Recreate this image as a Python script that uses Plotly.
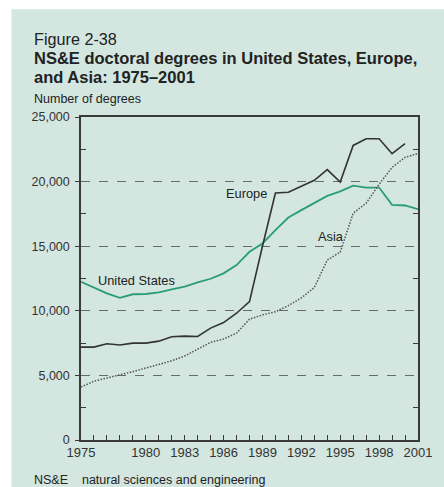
import plotly.graph_objects as go

years = list(range(1975, 2002))
us = [12250, 11800, 11350, 11000, 11280, 11300, 11430, 11660, 11870, 12200,
      12480, 12900, 13540, 14570, 15210, 16240, 17220, 17790, 18350, 18890,
      19250, 19690, 19540, 19540, 18200, 18150, 17860]
europe_years = list(range(1975, 2001))
europe = [7190, 7190, 7450, 7350, 7500, 7500, 7650, 7990, 8040, 8010,
          8660, 9090, 9810, 10710, 15000, 19120, 19180, 19640, 20100, 20930,
          19970, 22800, 23320, 23320, 22160, 22930]
asia = [4100, 4550, 4800, 5030, 5290, 5570, 5830, 6130, 6500, 7050,
        7560, 7810, 8270, 9350, 9680, 9930, 10400, 11000, 11800, 13930,
        14540, 17550, 18330, 19790, 21100, 21870, 22180]

labeled_years = [1975, 1980, 1983, 1986, 1989, 1992, 1995, 1998, 2001]
major_y = [0, 5000, 10000, 15000, 20000, 25000]
major_y_text = ["0", "5,000", "10,000", "15,000", "20,000", "25,000"]
minor_y = [2500, 7500, 12500, 17500, 22500]

W, H = 444, 487
L, R, T, B = 81, 418, 117, 440.5
pw, ph = R - L, B - T


def px(x):
    return (x - L) / pw


def py(y):
    return (B - y) / ph


TEAL = "#d3e6e0"
AX = "#3a3a3a"
FONT = "Liberation Sans, Arial, sans-serif"

fig = go.Figure()
fig.add_trace(go.Scatter(x=years, y=us, mode="lines", name="United States",
                         line=dict(color="#2a9d78", width=1.8)))
fig.add_trace(go.Scatter(x=europe_years, y=europe, mode="lines", name="Europe",
                         line=dict(color="#333333", width=1.6)))
fig.add_trace(go.Scatter(x=years, y=asia, mode="lines", name="Asia",
                         line=dict(color="#555555", width=1.5,
                                   dash="1.5px,1.5px")))
fig.add_trace(go.Scatter(x=[None], y=[None], yaxis="y2", showlegend=False,
                         hoverinfo="skip"))

fig.update_layout(
    width=W, height=H,
    margin=dict(l=L, r=W - R, t=T, b=H - B, pad=0),
    paper_bgcolor="white", plot_bgcolor="white",
    showlegend=False,
    font=dict(family=FONT, color="#333333", size=12),
    xaxis=dict(range=[1975, 2001], tickmode="array", tickvals=years,
               ticktext=[str(y) if y in labeled_years else "" for y in years],
               ticks="inside", ticklen=5, tickcolor=AX, tickwidth=1,
               showline=True, linecolor=AX, linewidth=1.5, mirror=True,
               showgrid=False, zeroline=False,
               tickfont=dict(size=13, color="#333333")),
    yaxis=dict(range=[0, 25000], tickmode="array", tickvals=major_y,
               ticktext=major_y_text, ticks="outside", ticklen=4,
               tickcolor=AX, showline=True, linecolor=AX, linewidth=1.5,
               mirror=True, showgrid=True, gridcolor="#6a6a6a",
               griddash="dash", gridwidth=1, zeroline=False,
               ticklabelstandoff=3,
               tickfont=dict(size=12.5, color="#333333"),
               minor=dict(tickmode="array", tickvals=minor_y, ticks="inside",
                          ticklen=5, tickcolor=AX, showgrid=False)),
    yaxis2=dict(range=[0, 25000], overlaying="y", side="right",
                tickmode="array", tickvals=minor_y, ticks="inside",
                ticklen=5, tickcolor=AX, showticklabels=False,
                showline=False, showgrid=False, zeroline=False),
)

# teal background panel
fig.add_shape(type="rect", xref="paper", yref="paper",
              x0=px(11.5), x1=px(W + 5), y0=py(H + 5), y1=py(9),
              fillcolor=TEAL, line=dict(width=0), layer="below")

# titles
fig.add_annotation(text="Figure 2-38", xref="paper", yref="paper",
                   x=px(32), y=py(39), xanchor="left", yanchor="middle",
                   showarrow=False, font=dict(size=16.2, color="#222222"))
fig.add_annotation(text="<b>NS&E doctoral degrees in United States, Europe,</b>",
                   xref="paper", yref="paper", x=px(32), y=py(57.5),
                   xanchor="left", yanchor="middle", showarrow=False,
                   font=dict(size=16.5, color="#222222"))
fig.add_annotation(text="<b>and Asia: 1975–2001</b>", xref="paper", yref="paper",
                   x=px(32), y=py(76.5), xanchor="left", yanchor="middle",
                   showarrow=False, font=dict(size=16.5, color="#222222"))
fig.add_annotation(text="Number of degrees", xref="paper", yref="paper",
                   x=px(32), y=py(98.5), xanchor="left", yanchor="middle",
                   showarrow=False, font=dict(size=12.5, color="#222222"))
fig.add_annotation(text="NS&E    natural sciences and engineering",
                   xref="paper", yref="paper", x=px(32), y=py(481),
                   xanchor="left", yanchor="middle", showarrow=False,
                   font=dict(size=12.5, color="#222222"))

# series labels
fig.add_annotation(text="United States", x=1976.15, y=12380, xanchor="left",
                   yanchor="middle", showarrow=False,
                   font=dict(size=12.8, color="#222222"))
fig.add_annotation(text="Europe", x=1989.5, y=19100, xanchor="right",
                   yanchor="middle", showarrow=False,
                   font=dict(size=12.8, color="#222222"))
fig.add_annotation(text="Asia", x=1993.1, y=15750, xanchor="left",
                   yanchor="middle", showarrow=False,
                   font=dict(size=12.8, color="#222222"))

fig.write_html("out.html",
               config={"displayModeBar": False},
               post_script="document.body.style.margin='0';"
                           "document.body.style.overflow='hidden';")
